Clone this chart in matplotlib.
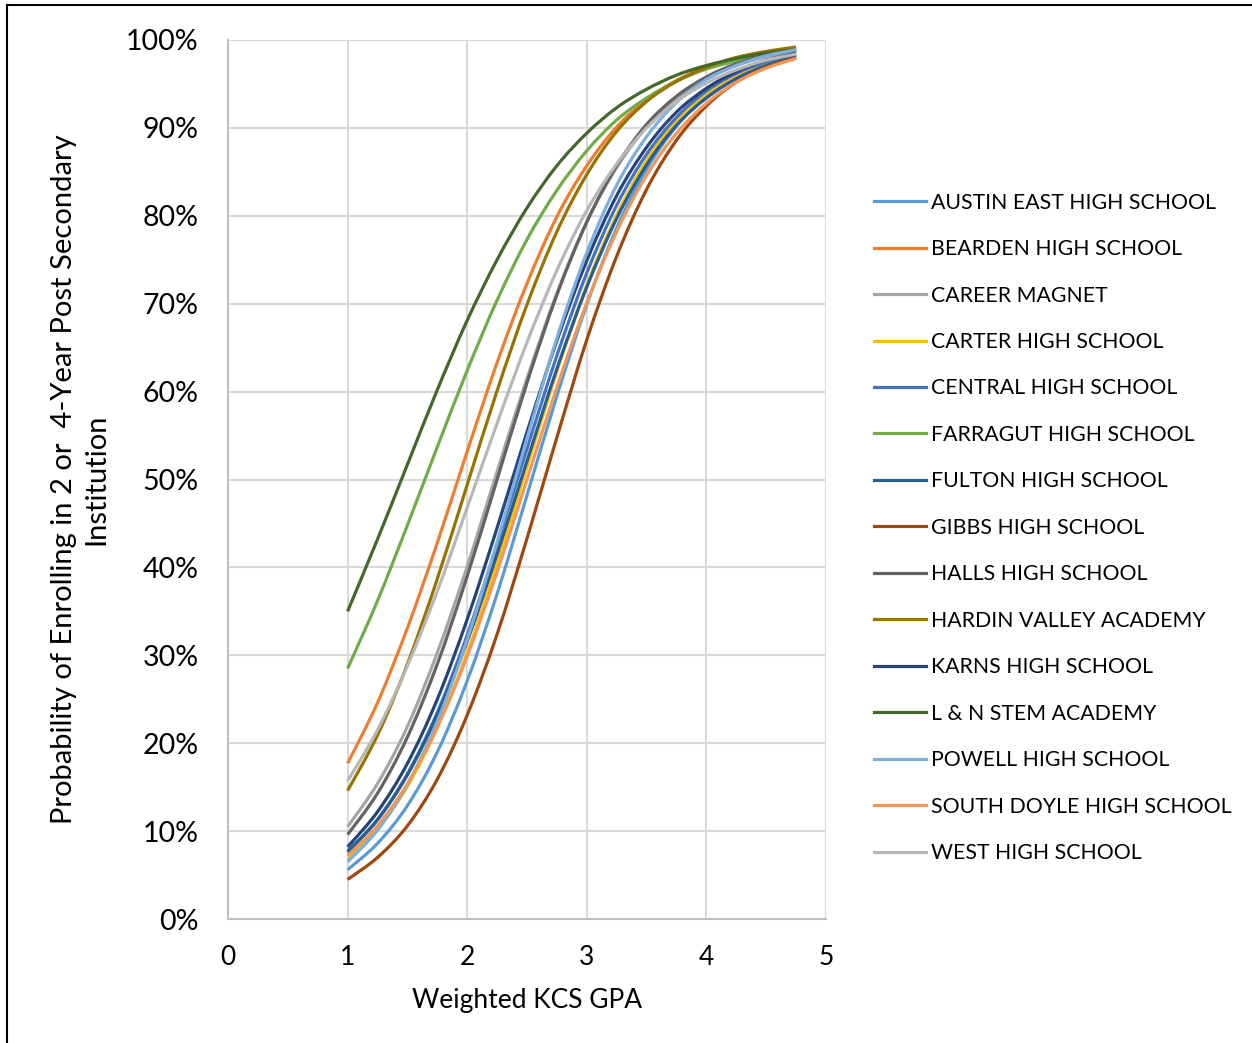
import matplotlib
matplotlib.use("Agg")
import matplotlib.pyplot as plt
from matplotlib.lines import Line2D
from matplotlib.path import Path
from matplotlib.patches import PathPatch
from matplotlib.ticker import FuncFormatter

gpa = [1.0, 1.25, 1.5, 1.75, 2.0, 2.25, 2.5, 2.75, 3.0, 3.25, 3.5, 3.75, 4.0, 4.25, 4.5, 4.75]

schools = ["AUSTIN EAST HIGH SCHOOL", "BEARDEN HIGH SCHOOL", "CAREER MAGNET", "CARTER HIGH SCHOOL",
           "CENTRAL HIGH SCHOOL", "FARRAGUT HIGH SCHOOL", "FULTON HIGH SCHOOL", "GIBBS HIGH SCHOOL",
           "HALLS HIGH SCHOOL", "HARDIN VALLEY ACADEMY", "KARNS HIGH SCHOOL", "L & N STEM ACADEMY",
           "POWELL HIGH SCHOOL", "SOUTH DOYLE HIGH SCHOOL", "WEST HIGH SCHOOL"]

austin_east = [0.056, 0.086, 0.129, 0.190, 0.271, 0.370, 0.482, 0.595, 0.699, 0.786, 0.853, 0.902, 0.936, 0.958, 0.973, 0.983]
bearden = [0.177, 0.246, 0.331, 0.428, 0.532, 0.633, 0.723, 0.799, 0.857, 0.901, 0.932, 0.954, 0.969, 0.980, 0.986, 0.991]
career_magnet = [0.105, 0.154, 0.219, 0.303, 0.401, 0.509, 0.615, 0.712, 0.793, 0.855, 0.901, 0.934, 0.956, 0.971, 0.981, 0.988]
carter = [0.068, 0.102, 0.151, 0.218, 0.303, 0.404, 0.514, 0.623, 0.721, 0.801, 0.863, 0.908, 0.939, 0.960, 0.974, 0.983]
central = [0.076, 0.113, 0.165, 0.235, 0.323, 0.426, 0.535, 0.641, 0.735, 0.812, 0.870, 0.912, 0.942, 0.962, 0.975, 0.984]
farragut = [0.285, 0.362, 0.448, 0.537, 0.624, 0.704, 0.773, 0.829, 0.874, 0.909, 0.934, 0.953, 0.967, 0.976, 0.983, 0.988]
fulton = [0.077, 0.113, 0.164, 0.232, 0.316, 0.415, 0.521, 0.626, 0.719, 0.797, 0.858, 0.903, 0.934, 0.956, 0.971, 0.981]
gibbs = [0.045, 0.070, 0.106, 0.159, 0.232, 0.324, 0.433, 0.548, 0.659, 0.754, 0.830, 0.886, 0.925, 0.952, 0.969, 0.980]
halls = [0.096, 0.143, 0.207, 0.290, 0.390, 0.500, 0.610, 0.710, 0.793, 0.857, 0.904, 0.936, 0.958, 0.973, 0.983, 0.989]
hardin_valley = [0.146, 0.209, 0.290, 0.387, 0.494, 0.601, 0.699, 0.782, 0.847, 0.896, 0.930, 0.953, 0.969, 0.980, 0.987, 0.992]
karns = [0.082, 0.122, 0.177, 0.250, 0.341, 0.445, 0.554, 0.658, 0.749, 0.823, 0.878, 0.918, 0.945, 0.964, 0.977, 0.985]
ln_stem = [0.350, 0.432, 0.517, 0.602, 0.681, 0.750, 0.809, 0.857, 0.894, 0.923, 0.944, 0.960, 0.971, 0.979, 0.985, 0.989]
powell = [0.065, 0.101, 0.153, 0.225, 0.318, 0.429, 0.547, 0.661, 0.758, 0.835, 0.890, 0.929, 0.955, 0.971, 0.982, 0.989]
south_doyle = [0.072, 0.106, 0.154, 0.218, 0.299, 0.395, 0.500, 0.605, 0.701, 0.782, 0.846, 0.894, 0.928, 0.952, 0.968, 0.979]
west = [0.157, 0.215, 0.288, 0.373, 0.468, 0.564, 0.656, 0.738, 0.806, 0.859, 0.900, 0.930, 0.951, 0.966, 0.977, 0.984]

series = [austin_east, bearden, career_magnet, carter, central, farragut, fulton, gibbs,
          halls, hardin_valley, karns, ln_stem, powell, south_doyle, west]
colors = ["#5B9BD5", "#ED7D31", "#A5A5A5", "#FFC000", "#4472C4", "#70AD47", "#255E91", "#9E480E",
          "#636363", "#997300", "#264478", "#43682B", "#7CAFDD", "#F1975A", "#B7B7B7"]

FONT = ["Lato", "DejaVu Sans"]
plt.rcParams["font.family"] = FONT

fig = plt.figure(figsize=(12.52, 10.43), dpi=100)
ax = fig.add_axes([228/1252, 1 - 919/1043, (826-228)/1252, (919-40)/1043])


def smooth_path(xs, ys):
    """Excel-style smoothed line: cubic Bezier segments through the data points."""
    pts = list(zip(xs, ys))
    n = len(pts)
    verts = [pts[0]]
    codes = [Path.MOVETO]
    for i in range(n - 1):
        p0 = pts[i - 1] if i > 0 else pts[i]
        p1 = pts[i]
        p2 = pts[i + 1]
        p3 = pts[i + 2] if i + 2 < n else pts[i + 1]
        c1 = (p1[0] + (p2[0] - p0[0]) / 6, p1[1] + (p2[1] - p0[1]) / 6)
        c2 = (p2[0] - (p3[0] - p1[0]) / 6, p2[1] - (p3[1] - p1[1]) / 6)
        verts += [c1, c2, p2]
        codes += [Path.CURVE4] * 3
    return Path(verts, codes)


handles = []
for vals, c, name in zip(series, colors, schools):
    patch = PathPatch(smooth_path(gpa, vals), facecolor="none", edgecolor=c, lw=2.3,
                      capstyle="butt", joinstyle="round")
    ax.add_patch(patch)
    handles.append(Line2D([], [], color=c, lw=2.3, label=name))

ax.set_xlim(0, 5)
ax.set_ylim(0, 1)
ax.set_xticks([0, 1, 2, 3, 4, 5])
ax.set_yticks([i/10 for i in range(11)])
ax.yaxis.set_major_formatter(FuncFormatter(lambda v, p: f"{int(round(v*100))}%"))
ax.grid(True, color="#D9D9D9", lw=1.5)
ax.set_axisbelow(True)
for s in ["top", "right"]:
    ax.spines[s].set_visible(False)
for s in ["left", "bottom"]:
    ax.spines[s].set_color("#BFBFBF")
    ax.spines[s].set_linewidth(1.5)
ax.tick_params(axis="y", length=0, labelsize=20.5, colors="black", pad=21)
ax.tick_params(axis="x", length=0, labelsize=19, colors="black", pad=19)

ax.set_xlabel("Weighted KCS GPA", fontsize=19, labelpad=13)
ax.set_ylabel("Probability of Enrolling in 2 or  4-Year Post Secondary\nInstitution",
              fontsize=21, labelpad=12, linespacing=1.3)

leg = ax.legend(handles=handles, loc="upper left", bbox_to_anchor=(863/1252, 1 - 182/1043),
                bbox_transform=fig.transFigure,
                frameon=False, fontsize=15.3, handlelength=2.45, handletextpad=0.25,
                labelspacing=1.245, borderpad=0)

fig.add_artist(Line2D([7/1252, 7/1252], [0, 1 - 5/1043], transform=fig.transFigure, color="black", lw=1.5))
fig.add_artist(Line2D([7/1252, 1], [1 - 5/1043, 1 - 5/1043], transform=fig.transFigure, color="black", lw=1.5))

fig.savefig("out.png", dpi=100, facecolor="white")
